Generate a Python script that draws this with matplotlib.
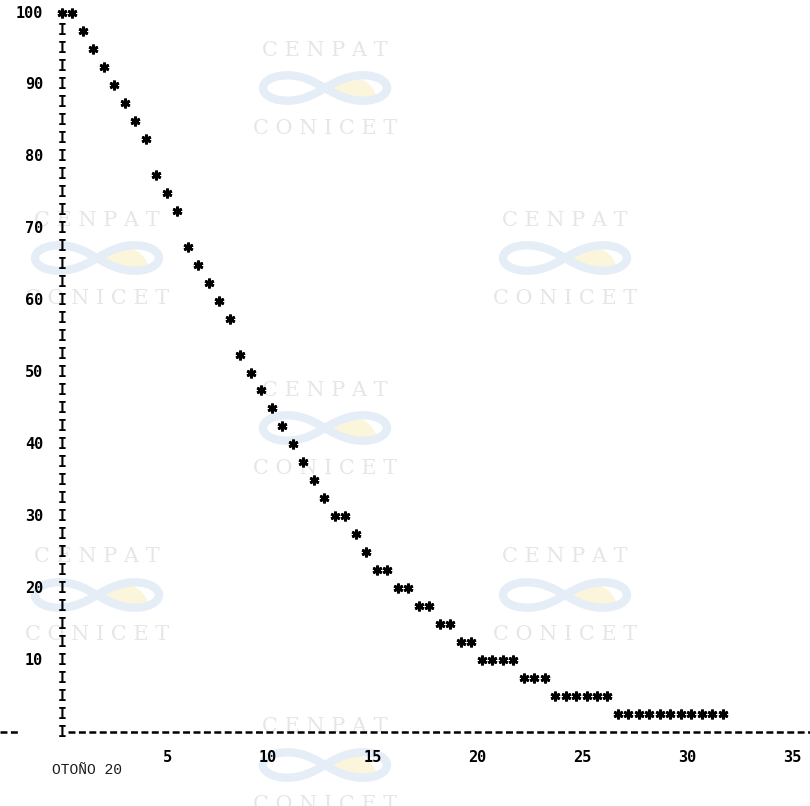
import numpy as np
import matplotlib
matplotlib.use("Agg")
import matplotlib.pyplot as plt
from matplotlib.patches import Wedge

# values: one point per printer column (0.5 units)
x_vals = [0.0, 0.5, 1.0, 1.5, 2.0, 2.5, 3.0, 3.5, 4.0, 4.5,
          5.0, 5.5, 6.0, 6.5, 7.0, 7.5, 8.0, 8.5, 9.0, 9.5,
          10.0, 10.5, 11.0, 11.5, 12.0, 12.5, 13.0, 13.5, 14.0, 14.5,
          15.0, 15.5, 16.0, 16.5, 17.0, 17.5, 18.0, 18.5, 19.0, 19.5,
          20.0, 20.5, 21.0, 21.5, 22.0, 22.5, 23.0, 23.5, 24.0, 24.5,
          25.0, 25.5, 26.0, 26.5, 27.0, 27.5, 28.0, 28.5, 29.0, 29.5,
          30.0, 30.5, 31.0, 31.5]
y_vals = [100, 100, 97.5, 95, 92.5, 90, 87.5, 85, 82.5, 77.5,
          75, 72.5, 67.5, 65, 62.5, 60, 57.5, 52.5, 50, 47.5,
          45, 42.5, 40, 37.5, 35, 32.5, 30, 30, 27.5, 25,
          22.5, 22.5, 20, 20, 17.5, 17.5, 15, 15, 12.5, 12.5,
          10, 10, 10, 10, 7.5, 7.5, 7.5, 5, 5, 5,
          5, 5, 5, 2.5, 2.5, 2.5, 2.5, 2.5, 2.5, 2.5,
          2.5, 2.5, 2.5, 2.5]
y_ticks = [100, 90, 80, 70, 60, 50, 40, 30, 20, 10]
x_ticks = [5, 10, 15, 20, 25, 30, 35]
caption = "OTOÑO 20"

W, H = 810, 806
PX_X = 20.98   # pixels per x unit
PX_Y = 7.19    # pixels per y unit
X0, Y100 = 62, 13

plt.rcParams['lines.scale_dashes'] = False
mono = "DejaVu Sans Mono"

fig = plt.figure(figsize=(W / 100, H / 100), dpi=100)
fig.patch.set_facecolor("white")

# background layer in pixel coords for the archive watermark
bg = fig.add_axes([0, 0, 1, 1])
bg.set_xlim(0, W)
bg.set_ylim(H, 0)
bg.axis("off")


def watermark(cx, cy):
    bg.text(cx, cy - 38, "C E N P A T", ha="center", va="center", fontsize=15,
            family="DejaVu Serif", color="#e6e6e6")
    bg.text(cx, cy + 40, "C O N I C E T", ha="center", va="center", fontsize=15,
            family="DejaVu Serif", color="#e6e6e6")
    # pale sun inside the right loop
    bg.add_patch(Wedge((cx + 28, cy + 14), 24, 195, 345, color="#fbf5dc", lw=0))
    t = np.linspace(0, 2 * np.pi, 300)
    lx = 62 * np.cos(t) / (1 + np.sin(t) ** 2)
    ly = 36 * np.sin(t) * np.cos(t) / (1 + np.sin(t) ** 2)
    bg.plot(cx + lx, cy + ly, color="#e5edf6", lw=6, solid_capstyle="round")


for cx, cy in [(325, 88), (97, 258), (565, 258), (325, 428),
               (97, 595), (565, 595), (325, 765)]:
    watermark(cx, cy)

# printer plot layer in data coords
ax = fig.add_axes([0, 0, 1, 1])
ax.patch.set_alpha(0)
ax.set_xlim(-X0 / PX_X, (W - X0) / PX_X)
ax.set_ylim(100 - (H - Y100) / PX_Y, 100 + Y100 / PX_Y)
ax.axis("off")

# vertical axis made of I characters
for v in np.arange(0, 100, 2.5):
    ax.text(0, v, "I", ha="center", va="center", fontsize=10.5,
            family=mono, fontweight="bold", color="black")

for v in y_ticks:
    ax.text(-19 / PX_X, v, str(v), ha="right", va="center", fontsize=11,
            family=mono, fontweight="bold", color="black")

# horizontal axis of dashes
ax.plot([0.3, 36], [0, 0], color="black", lw=1.8, ls=(0, (5.0, 2.5)))
ax.plot([-X0 / PX_X, -42 / PX_X], [0, 0], color="black", lw=1.8, ls=(0, (5.0, 2.5)))

for v in x_ticks:
    ax.text(v + 0.25, -3.5, str(v), ha="right", va="center", fontsize=11,
            family=mono, fontweight="bold", color="black")

ax.plot(x_vals, y_vals, ls="none", marker=(6, 2, 0), ms=7, mew=2.0,
        color="black")

ax.text(-0.5, -5.3, caption, ha="left", va="center", fontsize=10.5,
        family="Liberation Mono", color="#1a1a1a")

fig.savefig("out.png", dpi=100)
